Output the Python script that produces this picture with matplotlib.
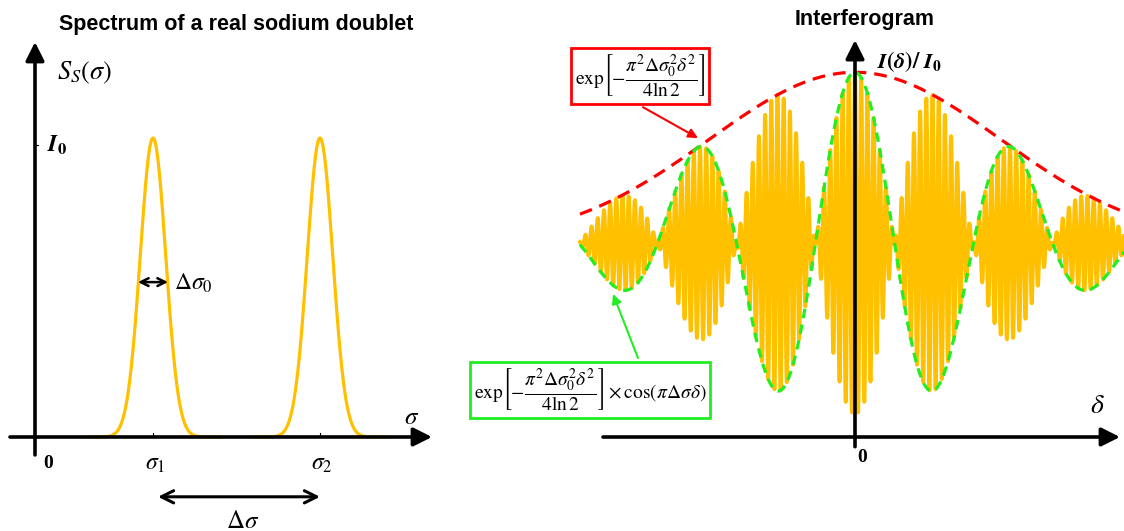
import numpy as np
import matplotlib
matplotlib.use('Agg')
import matplotlib.pyplot as plt

plt.rcParams['mathtext.fontset'] = 'stix'

# ---- left panel: sodium doublet spectrum ----
peak_pos = [1.18, 2.85]      # sigma_1, sigma_2
peak_height = 1.0            # I0
peak_fwhm = 0.30             # delta sigma_0
peak_half_window = 0.67      # curve drawn only around each peak

# ---- right panel: interferogram ----
delta_range = [-2.75, 2.69]
beat_dsigma = 1.266          # delta sigma in cos(pi * dsigma * delta)
env_coef = 0.235             # pi^2 dsigma0^2 / (4 ln2)
carrier_period = 0.062
offset = 1.0
amp = 0.88

GOLD = '#FFC000'
GREEN = '#22EE22'

fig = plt.figure(figsize=(11.24, 5.31), dpi=100)
axL = fig.add_axes([0, 0, 440 / 1124, 1])
axR = fig.add_axes([440 / 1124, 0, 684 / 1124, 1])
for ax in (axL, axR):
    ax.axis('off')
axL.set_xlim(-0.35, 4.05)
axL.set_ylim(-0.3144, 1.4615)
axR.set_xlim(-4.15, 2.69)
axR.set_ylim(-0.4845, 2.2526)

# gaussian peaks
gs = peak_fwhm / (2 * np.sqrt(2 * np.log(2)))
for p in peak_pos:
    x = np.linspace(p - peak_half_window, p + peak_half_window, 300)
    axL.plot(x, peak_height * np.exp(-(x - p) ** 2 / (2 * gs ** 2)), color=GOLD, lw=2.3)

# axes arrows
ak = dict(arrowstyle='-|>', color='black', lw=2.6, mutation_scale=28, shrinkA=0, shrinkB=0)
axL.annotate('', xy=(0, 1.321), xytext=(0, -0.06), arrowprops=ak)
axL.annotate('', xy=(3.97, 0), xytext=(-0.25, 0), arrowprops=ak)
for p in peak_pos:
    axL.plot([p, p], [0, 0.012], color='black', lw=0.8)
axL.plot([0, 0.03], [0.977, 0.977], color='black', lw=0.8)

axL.text(2.01, 1.378, 'Spectrum of a real sodium doublet', ha='center', va='center',
         fontsize=15.5, fontweight='bold', family='Liberation Sans')
axL.text(0.50, 1.217, r'$S_S(\sigma)$', ha='center', va='center', fontsize=19)
axL.text(0.22, 0.975, r'$\mathbfit{I}_\mathbf{0}$', ha='center', va='center', fontsize=17)
axL.text(0.13, -0.087, '0', ha='center', va='center', fontsize=14, fontweight='bold',
         family='Liberation Serif')
axL.text(peak_pos[0] + 0.02, -0.087, r'$\sigma_1$', ha='center', va='center', fontsize=17)
axL.text(peak_pos[1] + 0.02, -0.087, r'$\sigma_2$', ha='center', va='center', fontsize=17)
axL.text(3.77, 0.068, r'$\sigma$', ha='center', va='center', fontsize=18)

dk = dict(arrowstyle='<->', color='black', lw=1.8, mutation_scale=14, shrinkA=0, shrinkB=0)
axL.annotate('', xy=(peak_pos[0] - peak_fwhm / 2, 0.518), xytext=(peak_pos[0] + peak_fwhm / 2, 0.518),
             arrowprops=dk)
axL.text(1.58, 0.515, r'$\Delta\sigma_0$', ha='center', va='center', fontsize=17)
dk2 = dict(arrowstyle='<->', color='black', lw=2.2, mutation_scale=22, shrinkA=0, shrinkB=0)
axL.annotate('', xy=(1.23, -0.20), xytext=(2.85, -0.20), arrowprops=dk2)
axL.text(2.08, -0.28, r'$\Delta\sigma$', ha='center', va='center', fontsize=18)

# interferogram
d = np.linspace(delta_range[0], delta_range[1], 10000)
env = np.exp(-env_coef * d ** 2)
beat = env * np.cos(np.pi * beat_dsigma * d)
sig = offset + amp * beat * np.cos(2 * np.pi * d / carrier_period)
axR.plot(d, sig, color=GOLD, lw=2.8)
axR.plot(d, offset + amp * env, color='red', lw=2.3, ls=(0, (4, 2.5)))
axR.plot(d, offset + amp * beat, color=GREEN, lw=2.3, ls=(0, (3, 2)))

axR.annotate('', xy=(0, 2.046), xytext=(0, -0.05), arrowprops=ak)
axR.annotate('', xy=(2.65, 0), xytext=(-2.52, 0), arrowprops=ak)

axR.text(0.10, 2.15, 'Interferogram', ha='center', va='center',
         fontsize=15.5, fontweight='bold', family='Liberation Sans')
axR.text(0.55, 1.933, r'$\mathbfit{I}\mathbf{(}\mathbfit{\delta}\mathbf{)/}\ \mathbfit{I}_\mathbf{0}$',
         ha='center', va='center', fontsize=16)
axR.text(0.07, -0.108, '0', ha='center', va='center', fontsize=14, fontweight='bold',
         family='Liberation Serif')
axR.text(2.42, 0.165, r'$\delta$', ha='center', va='center', fontsize=20)

axR.text(-2.15, 1.861, r'$\mathrm{exp}\left[-\dfrac{\pi^2\Delta\sigma_0^2\delta^2}{4\ln 2}\right]$',
         ha='center', va='center', fontsize=14,
         bbox=dict(boxstyle='square,pad=0.2', fc='white', ec='red', lw=2))
axR.annotate('', xy=(-1.57, 1.541), xytext=(-2.12, 1.70),
             arrowprops=dict(arrowstyle='-|>', color='red', lw=1.5, mutation_scale=14,
                             shrinkA=0, shrinkB=0))
axR.text(-2.65, 0.242,
         r'$\mathrm{exp}\left[-\dfrac{\pi^2\Delta\sigma_0^2\delta^2}{4\ln 2}\right]\times\cos(\pi\Delta\sigma\delta)$',
         ha='center', va='center', fontsize=14,
         bbox=dict(boxstyle='square,pad=0.2', fc='white', ec=GREEN, lw=2))
axR.annotate('', xy=(-2.42, 0.737), xytext=(-2.17, 0.407),
             arrowprops=dict(arrowstyle='-|>', color=GREEN, lw=1.5, mutation_scale=14,
                             shrinkA=0, shrinkB=0))

fig.savefig('out.png', dpi=100)
